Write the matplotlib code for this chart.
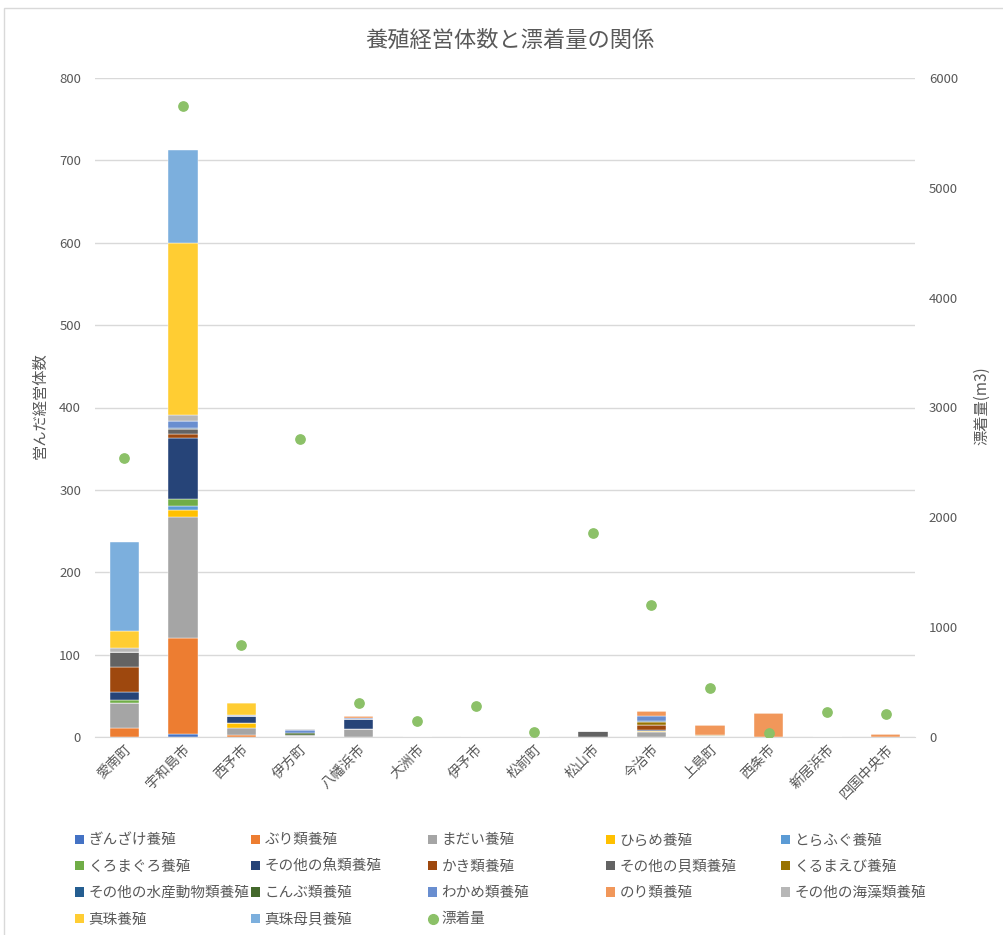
import matplotlib
matplotlib.use("Agg")
import matplotlib.pyplot as plt
import numpy as np
from matplotlib.lines import Line2D
from matplotlib.patches import Patch, Rectangle

plt.rcParams['font.family'] = ['Noto Sans CJK JP', 'DejaVu Sans']

cities = ['愛南町', '宇和島市', '西予市', '伊方町', '八幡浜市', '大洲市', '伊予市',
          '松前町', '松山市', '今治市', '上島町', '西条市', '新居浜市', '四国中央市']

# 経営体数 (stack order bottom -> top)
ginzake   = [0, 4, 0, 0, 0, 0, 0, 0, 0, 0, 0, 0, 0, 0]
buri      = [11, 116, 2, 0, 0, 0, 0, 0, 0, 0, 0, 0, 0, 0]
madai     = [30, 147, 9, 1, 10, 0, 0, 0, 0, 6, 1, 0, 0, 0]
hirame    = [0, 9, 6, 0, 0, 0, 0, 0, 0, 1, 0, 0, 0, 0]
torafugu  = [0, 4.5, 0, 0, 0, 0, 0, 0, 0, 0, 0, 0, 0, 0]
kuromaguro = [4, 9, 0, 0, 0, 0, 0, 0, 0, 0, 0, 0, 0, 0]
sakana_other = [10, 74, 9, 0, 12, 0, 0, 0, 0, 1, 0, 0, 0, 0]
kaki      = [30, 4, 0, 0, 0, 0, 0, 0, 0, 6, 0, 0, 0, 0]
kai_other = [18, 6, 0, 2, 0, 0, 0, 0, 7, 1, 0, 0, 0, 0]
kurumaebi = [0, 1, 0, 0, 0, 0, 0, 0, 0, 3, 1, 0, 0, 0]
suisan_other = [0, 1, 0, 0, 0, 0, 0, 0, 0, 1, 0, 0, 0, 0]
konbu     = [0, 0, 0, 2, 0, 0, 0, 0, 0, 0, 1, 0, 0, 0]
wakame    = [0, 8, 1, 3, 1, 0, 0, 0, 0, 7, 0, 0, 0, 0]
nori      = [0, 0, 0, 0, 2, 0, 0.5, 0, 0, 5, 11, 29, 0.5, 3.5]
kaiso_other = [5, 8, 0, 2, 1, 0, 0, 0, 0, 0, 0, 0, 0, 0]
shinju    = [21, 208, 14, 0, 0, 0, 0, 0, 0, 0, 0, 0, 0, 0]
shinju_bogai = [108, 113, 0, 0, 0, 0, 0, 0, 0, 0, 0, 0, 0, 0]

# 漂着量 (m3)
drift = [2540, 5745, 840, 2715, 310, 145, 285, 45, 1860, 1200, 445, 40, 230, 210]

series = [
    ('ぎんざけ養殖', ginzake, '#4472C4'),
    ('ぶり類養殖', buri, '#ED7D31'),
    ('まだい養殖', madai, '#A5A5A5'),
    ('ひらめ養殖', hirame, '#FFC000'),
    ('とらふぐ養殖', torafugu, '#5B9BD5'),
    ('くろまぐろ養殖', kuromaguro, '#70AD47'),
    ('その他の魚類養殖', sakana_other, '#264478'),
    ('かき類養殖', kaki, '#9E480E'),
    ('その他の貝類養殖', kai_other, '#636363'),
    ('くるまえび養殖', kurumaebi, '#997300'),
    ('その他の水産動物類養殖', suisan_other, '#255E91'),
    ('こんぶ類養殖', konbu, '#43682B'),
    ('わかめ類養殖', wakame, '#698ED0'),
    ('のり類養殖', nori, '#F1975A'),
    ('その他の海藻類養殖', kaiso_other, '#B7B7B7'),
    ('真珠養殖', shinju, '#FFCD33'),
    ('真珠母貝養殖', shinju_bogai, '#7CAFDD'),
]

txt = '#595959'
fig = plt.figure(figsize=(10.04, 9.35), dpi=100)
fig.patches.append(Rectangle((4/1004, -0.01), 1.02, 1-8/935 + 0.01, transform=fig.transFigure,
                             fill=False, edgecolor='#d9d9d9', lw=1))

ax = fig.add_axes((95/1004, 1-737/935, 820/1004, 659/935))
x = np.arange(len(cities))
bottom = np.zeros(len(cities))
handles = []
for name, vals, col in series:
    v = np.array(vals, dtype=float)
    ax.bar(x, v, 0.5, bottom=bottom, color=col, edgecolor='white', linewidth=0.3, zorder=2)
    bottom += v
    handles.append(Patch(facecolor=col, label=name))

ax.set_xlim(-0.5, len(cities) - 0.5)
ax.set_ylim(0, 800)
ax.set_yticks(range(0, 801, 100))
ax.yaxis.grid(True, color='#d9d9d9', lw=1, zorder=0)
ax.set_axisbelow(True)
for s in ['top', 'left', 'right']:
    ax.spines[s].set_visible(False)
ax.spines['bottom'].set_color('#d9d9d9')
ax.tick_params(axis='both', length=0, colors=txt, labelsize=9.5)
ax.tick_params(axis='y', pad=10)
ax.set_xticks(x)
ax.set_xticklabels(cities, rotation=45, ha='right', rotation_mode='anchor', fontsize=10)

ax2 = ax.twinx()
ax2.scatter(x, drift, s=45, color='#8CC168', zorder=5)
ax2.set_ylim(0, 6000)
ax2.set_yticks(range(0, 6001, 1000))
for s in ['top', 'left', 'right', 'bottom']:
    ax2.spines[s].set_visible(False)
ax2.tick_params(axis='y', length=0, colors=txt, labelsize=9.5, pad=10)
handles.append(Line2D([], [], marker='o', ls='', color='#8CC168', markersize=7, label='漂着量'))

fig.text(0.508, 1-40/935, '養殖経営体数と漂着量の関係', ha='center', va='center', fontsize=16, color=txt)
fig.text(40/1004, 1-406/935, '営んだ経営体数', rotation=90, ha='center', va='center', fontsize=11, color=txt)
fig.text(982/1004, 1-406/935, '漂着量(m3)', rotation=90, ha='center', va='center', fontsize=11, color=txt)

# legend: 5 columns, placed one column at a time
col_x = [68, 244, 421, 599, 774]
for c in range(5):
    hs = handles[c::5]
    fig.legend(handles=hs, loc='upper left', bbox_to_anchor=(col_x[c]/1004, 1-826/935),
               frameon=False, fontsize=10.5, labelcolor=txt, handlelength=0.6,
               handleheight=0.6, handletextpad=0.3, labelspacing=0.85, borderpad=0)

fig.savefig('out.png', dpi=100)
